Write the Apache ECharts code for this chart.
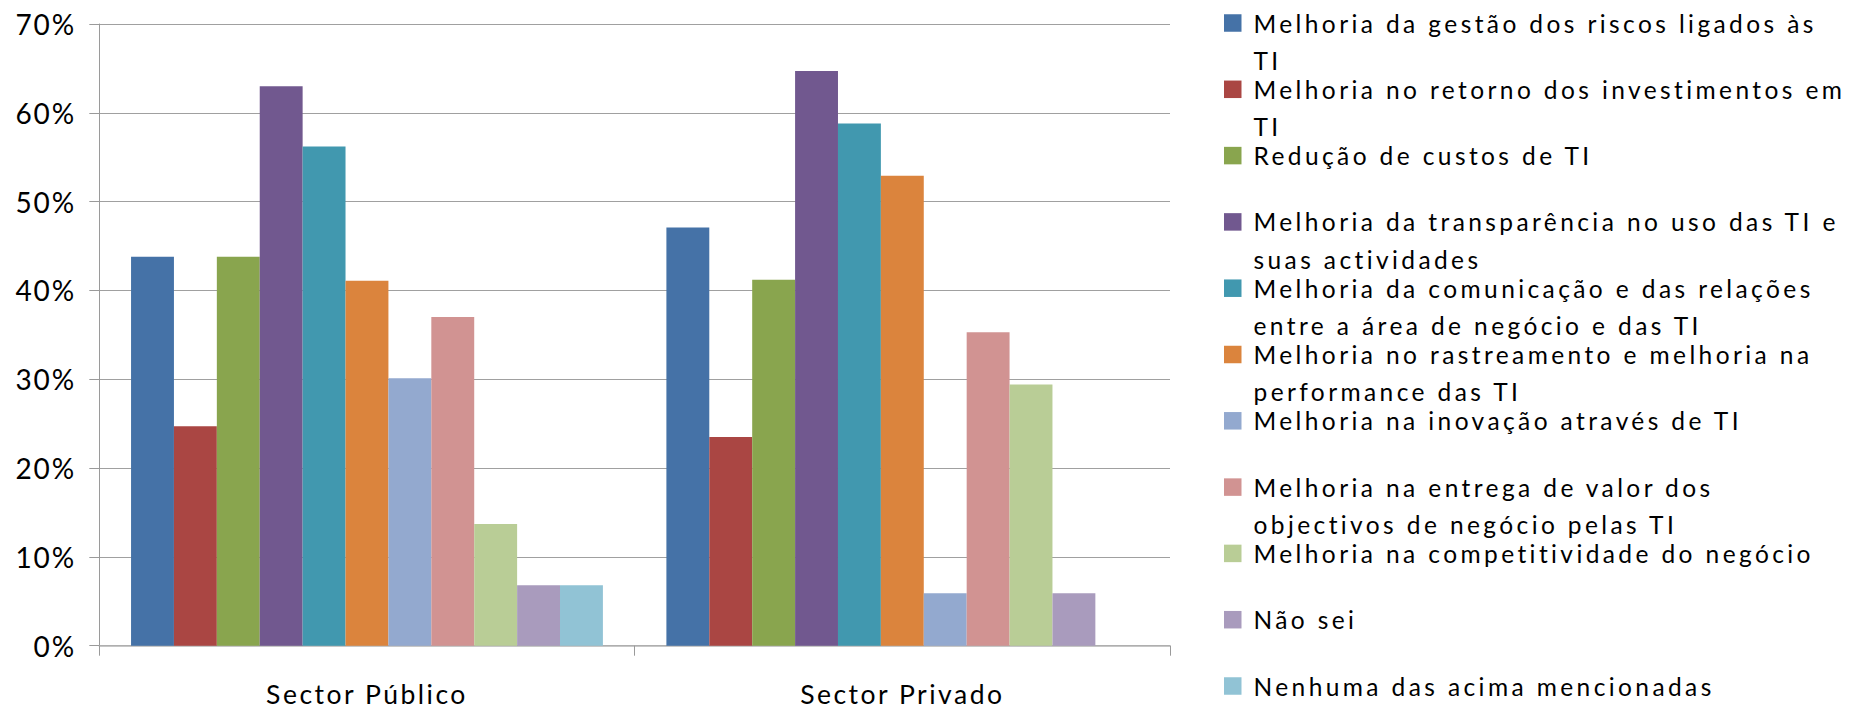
<!DOCTYPE html>
<html>
<head>
<meta charset="utf-8">
<script src="https://cdn.jsdelivr.net/npm/echarts@6/dist/echarts.min.js"></script>
<style>
  html, body { margin: 0; padding: 0; background: #fff; }
  #chart { width: 1852px; height: 710px; }
  /* wide tracking, different per text size */
  #chart text[style*="24.5px"] { letter-spacing: 3.4px; }
  #chart text[style*="26.5px"] { letter-spacing: 2.5px; }
  #chart text[style*="28px"] { letter-spacing: 2px; }
</style>
</head>
<body>
<div id="chart"></div>
<script>
// Survey answers by sector (share of respondents, %)
const categories = ['Sector Público', 'Sector Privado'];

// '\n' marks where a legend entry wraps onto its second line
const seriesLabels = [
  'Melhoria da gestão dos riscos ligados às\nTI',
  'Melhoria no retorno dos investimentos em\nTI',
  'Redução de custos de TI',
  'Melhoria da transparência no uso das TI e\nsuas actividades',
  'Melhoria da comunicação e das relações\nentre a área de negócio e das TI',
  'Melhoria no rastreamento e melhoria na\nperformance das TI',
  'Melhoria na inovação através de TI',
  'Melhoria na entrega de valor dos\nobjectivos de negócio pelas TI',
  'Melhoria na competitividade do negócio',
  'Não sei',
  'Nenhuma das acima mencionadas'
];

const publicValues  = [43.8, 24.7, 43.8, 63.0, 56.2, 41.1, 30.1, 37.0, 13.7, 6.8, 6.8];
const privateValues = [47.1, 23.5, 41.2, 64.7, 58.8, 52.9, 5.9, 35.3, 29.4, 5.9, 0];

const palette = ['#4572A7', '#AA4643', '#89A54E', '#71588F', '#4198AF', '#DB843D',
                 '#93A9CF', '#D19392', '#B9CD96', '#A99BBD', '#91C3D5'];

const seriesNames = seriesLabels.map(l => l.replace('\n', ' '));

// One legend block per entry so every entry sits on a fixed row,
// with the colour key level with the first text line.
const LEGEND_LEFT = 1224, FIRST_ROW = 23, ROW_STEP = 66.3, LINE_H = 37.4;
const legends = seriesLabels.map((label, i) => {
  const wrapped = label.indexOf('\n') >= 0;
  const shown = wrapped ? '\n' + label : label;
  const boxH = (wrapped ? 3 : 1) * LINE_H;
  return {
    data: [seriesNames[i]],
    orient: 'vertical',
    left: LEGEND_LEFT,
    top: FIRST_ROW + ROW_STEP * i - boxH / 2,
    padding: 0,
    icon: 'rect',
    itemWidth: 17.5,
    itemHeight: 17.5,
    selectedMode: false,
    formatter: () => shown,
    textStyle: {
      fontFamily: 'Lato',
      fontSize: 24.5,
      lineHeight: LINE_H,
      color: '#000',
      padding: [0, 0, 0, 7]
    }
  };
});

const chart = echarts.init(document.getElementById('chart'), null, { renderer: 'svg' });

chart.setOption({
  animation: false,
  backgroundColor: '#fff',
  grid: { left: 99.3, right: 682, top: 24, bottom: 64.3, outerBoundsMode: 'none' },
  legend: legends,
  xAxis: {
    type: 'category',
    data: categories,
    axisLine: { lineStyle: { color: '#b4b4b4', width: 1.5 } },
    axisTick: { show: true, length: 10, lineStyle: { color: '#9a9a9a' } },
    axisLabel: { fontFamily: 'Lato', fontSize: 26.5, color: '#000', margin: 35 }
  },
  yAxis: {
    type: 'value',
    min: 0,
    max: 70,
    interval: 10,
    axisLine: { show: true, lineStyle: { color: '#9a9a9a' } },
    axisTick: { show: true, length: 10, lineStyle: { color: '#9a9a9a' } },
    splitLine: { lineStyle: { color: '#a0a0a0' } },
    axisLabel: {
      formatter: '{value}%',
      fontFamily: 'Lato',
      fontSize: 28,
      color: '#000',
      margin: 23,
      padding: [9, 0, 0, 0]
    }
  },
  series: seriesNames.map((name, i) => ({
    name: name,
    type: 'bar',
    data: [publicValues[i], privateValues[i]],
    itemStyle: { color: palette[i] },
    barGap: '0%',
    barCategoryGap: '11.86%'
  }))
});
</script>
</body>
</html>
